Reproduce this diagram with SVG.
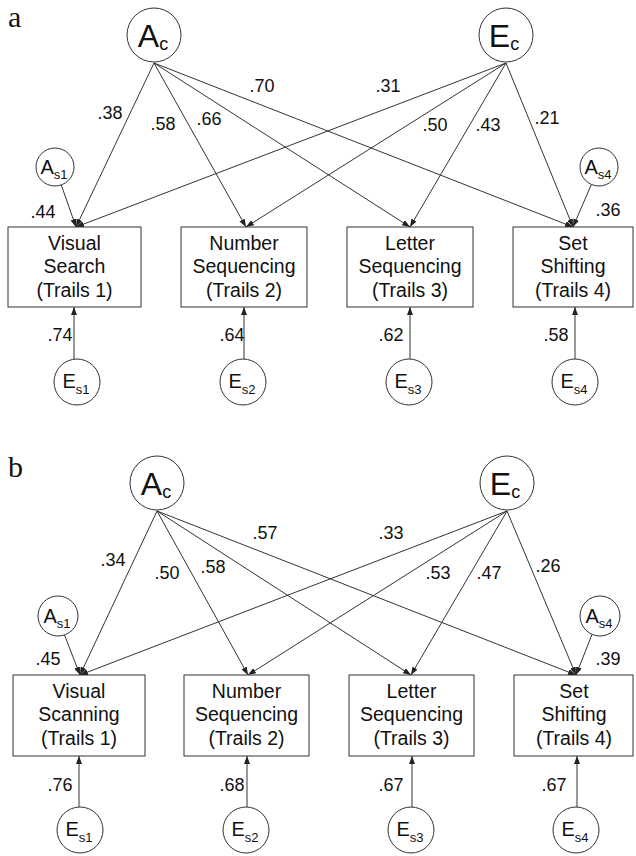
<svg xmlns="http://www.w3.org/2000/svg" width="636" height="856" viewBox="0 0 636 856">
<defs>
<marker id="ah" viewBox="0 0 8 6" refX="8" refY="3" markerWidth="8" markerHeight="6" markerUnits="userSpaceOnUse" orient="auto"><path d="M0,0 L8,3 L0,6 z" fill="#222"/></marker>
<style>
.n{fill:#fff;stroke:#333;stroke-width:1}
.c{stroke:#333;stroke-width:1;fill:none;marker-end:url(#ah)}
.t{font-family:"Liberation Sans",Arial,sans-serif;font-size:19.5px;fill:#111;text-anchor:middle}
.l{font-family:"Liberation Sans",Arial,sans-serif;font-size:18px;fill:#111;text-anchor:middle}
.big{font-family:"Liberation Sans",Arial,sans-serif;font-size:32px;fill:#111;text-anchor:middle}
.sm{font-family:"Liberation Sans",Arial,sans-serif;font-size:20px;fill:#111;text-anchor:middle}
.p{font-family:"Liberation Serif","Times New Roman",serif;font-size:30px;fill:#111}
</style>
</defs>
<rect width="636" height="856" fill="#fff"/>
<text class="p" x="8" y="27">a</text>
<text class="p" x="8" y="477">b</text>

<g id="connectors">
<!-- panel a -->
<line class="c" x1="154" y1="63" x2="76" y2="227"/>
<line class="c" x1="154" y1="63" x2="246" y2="227"/>
<line class="c" x1="154" y1="63" x2="410" y2="227"/>
<line class="c" x1="154" y1="63" x2="573" y2="227"/>
<line class="c" x1="506" y1="63" x2="76" y2="227"/>
<line class="c" x1="506" y1="63" x2="246" y2="227"/>
<line class="c" x1="506" y1="63" x2="410" y2="227"/>
<line class="c" x1="506" y1="63" x2="573" y2="227"/>
<line class="c" x1="61.3" y1="185" x2="76" y2="227"/>
<line class="c" x1="591.4" y1="184.4" x2="573" y2="227"/>
<line class="c" x1="74" y1="359" x2="74" y2="307"/>
<line class="c" x1="244" y1="359" x2="244" y2="307"/>
<line class="c" x1="410" y1="359" x2="410" y2="307"/>
<line class="c" x1="575" y1="359" x2="575" y2="307"/>
<!-- panel b -->
<line class="c" x1="157" y1="511" x2="80" y2="675"/>
<line class="c" x1="157" y1="511" x2="248" y2="675"/>
<line class="c" x1="157" y1="511" x2="411" y2="675"/>
<line class="c" x1="157" y1="511" x2="576" y2="675"/>
<line class="c" x1="507" y1="511" x2="80" y2="675"/>
<line class="c" x1="507" y1="511" x2="248" y2="675"/>
<line class="c" x1="507" y1="511" x2="411" y2="675"/>
<line class="c" x1="507" y1="511" x2="576" y2="675"/>
<line class="c" x1="64.5" y1="635" x2="80" y2="675"/>
<line class="c" x1="592" y1="634.5" x2="576" y2="675"/>
<line class="c" x1="79" y1="807" x2="79" y2="756"/>
<line class="c" x1="247" y1="807" x2="247" y2="756"/>
<line class="c" x1="412" y1="807" x2="412" y2="756"/>
<line class="c" x1="577" y1="807" x2="577" y2="756"/>
</g>

<g id="labels-a">
<text class="l" x="110" y="119">.38</text>
<text class="l" x="163" y="130">.58</text>
<text class="l" x="209" y="125">.66</text>
<text class="l" x="262" y="92">.70</text>
<text class="l" x="388" y="92">.31</text>
<text class="l" x="435" y="131">.50</text>
<text class="l" x="488" y="131">.43</text>
<text class="l" x="547" y="124">.21</text>
<text class="l" x="43" y="218">.44</text>
<text class="l" x="608" y="216">.36</text>
<text class="l" x="60" y="341">.74</text>
<text class="l" x="232" y="341">.64</text>
<text class="l" x="391" y="341">.62</text>
<text class="l" x="556" y="341">.58</text>
</g>
<g id="labels-b">
<text class="l" x="113" y="566">.34</text>
<text class="l" x="167" y="579">.50</text>
<text class="l" x="213" y="573">.58</text>
<text class="l" x="265" y="539">.57</text>
<text class="l" x="391" y="539">.33</text>
<text class="l" x="438" y="579">.53</text>
<text class="l" x="489" y="579">.47</text>
<text class="l" x="548" y="572">.26</text>
<text class="l" x="48" y="665">.45</text>
<text class="l" x="608" y="665">.39</text>
<text class="l" x="60" y="791">.76</text>
<text class="l" x="232" y="791">.68</text>
<text class="l" x="391" y="791">.67</text>
<text class="l" x="554" y="791">.67</text>
</g>

<!-- panel a nodes -->
<g id="a-Ac"><circle class="n" cx="154" cy="35" r="27"/><text class="big" x="153" y="47">A<tspan font-size="18" dy="3">c</tspan></text></g>
<g id="a-Ec"><circle class="n" cx="506" cy="35" r="27"/><text class="big" x="504" y="47">E<tspan font-size="18" dy="3">c</tspan></text></g>
<g id="a-As1"><circle class="n" cx="55" cy="167" r="19"/><text class="sm" x="54" y="174">A<tspan font-size="13" dy="5">s1</tspan></text></g>
<g id="a-As4"><circle class="n" cx="599" cy="167" r="19"/><text class="sm" x="598" y="174">A<tspan font-size="13" dy="5">s4</tspan></text></g>
<g id="a-T1"><rect class="n" x="8" y="227" width="133" height="80"/><text class="t" x="74.5" y="250">Visual</text><text class="t" x="74.5" y="273">Search</text><text class="t" x="74.5" y="297">(Trails 1)</text></g>
<g id="a-T2"><rect class="n" x="181" y="227" width="126" height="80"/><text class="t" x="244" y="250">Number</text><text class="t" x="244" y="273">Sequencing</text><text class="t" x="244" y="297">(Trails 2)</text></g>
<g id="a-T3"><rect class="n" x="347" y="227" width="126" height="80"/><text class="t" x="410" y="250">Letter</text><text class="t" x="410" y="273">Sequencing</text><text class="t" x="410" y="297">(Trails 3)</text></g>
<g id="a-T4"><rect class="n" x="513" y="227" width="120" height="80"/><text class="t" x="573" y="250">Set</text><text class="t" x="573" y="273">Shifting</text><text class="t" x="573" y="297">(Trails 4)</text></g>
<g id="a-Es1"><circle class="n" cx="77" cy="382" r="23"/><text class="sm" x="76" y="388">E<tspan font-size="13" dy="6">s1</tspan></text></g>
<g id="a-Es2"><circle class="n" cx="243" cy="382" r="23"/><text class="sm" x="242" y="388">E<tspan font-size="13" dy="6">s2</tspan></text></g>
<g id="a-Es3"><circle class="n" cx="409" cy="382" r="23"/><text class="sm" x="408" y="388">E<tspan font-size="13" dy="6">s3</tspan></text></g>
<g id="a-Es4"><circle class="n" cx="575" cy="382" r="23"/><text class="sm" x="574" y="388">E<tspan font-size="13" dy="6">s4</tspan></text></g>

<!-- panel b nodes -->
<g id="b-Ac"><circle class="n" cx="157" cy="483" r="27"/><text class="big" x="156" y="495">A<tspan font-size="18" dy="3">c</tspan></text></g>
<g id="b-Ec"><circle class="n" cx="507" cy="483" r="27"/><text class="big" x="505" y="495">E<tspan font-size="18" dy="3">c</tspan></text></g>
<g id="b-As1"><circle class="n" cx="58" cy="616" r="20"/><text class="sm" x="57" y="623">A<tspan font-size="13" dy="5">s1</tspan></text></g>
<g id="b-As4"><circle class="n" cx="600" cy="616" r="20"/><text class="sm" x="599" y="623">A<tspan font-size="13" dy="5">s4</tspan></text></g>
<g id="b-T1"><rect class="n" x="13" y="675" width="132" height="81"/><text class="t" x="79" y="698">Visual</text><text class="t" x="79" y="721">Scanning</text><text class="t" x="79" y="745">(Trails 1)</text></g>
<g id="b-T2"><rect class="n" x="184" y="675" width="125" height="81"/><text class="t" x="246.5" y="698">Number</text><text class="t" x="246.5" y="721">Sequencing</text><text class="t" x="246.5" y="745">(Trails 2)</text></g>
<g id="b-T3"><rect class="n" x="349" y="675" width="125" height="81"/><text class="t" x="411.5" y="698">Letter</text><text class="t" x="411.5" y="721">Sequencing</text><text class="t" x="411.5" y="745">(Trails 3)</text></g>
<g id="b-T4"><rect class="n" x="514" y="675" width="119" height="81"/><text class="t" x="574" y="698">Set</text><text class="t" x="574" y="721">Shifting</text><text class="t" x="574" y="745">(Trails 4)</text></g>
<g id="b-Es1"><circle class="n" cx="80" cy="830" r="23"/><text class="sm" x="79" y="836">E<tspan font-size="13" dy="6">s1</tspan></text></g>
<g id="b-Es2"><circle class="n" cx="246" cy="830" r="23"/><text class="sm" x="245" y="836">E<tspan font-size="13" dy="6">s2</tspan></text></g>
<g id="b-Es3"><circle class="n" cx="411" cy="830" r="23"/><text class="sm" x="410" y="836">E<tspan font-size="13" dy="6">s3</tspan></text></g>
<g id="b-Es4"><circle class="n" cx="576" cy="830" r="23"/><text class="sm" x="575" y="836">E<tspan font-size="13" dy="6">s4</tspan></text></g>
</svg>
